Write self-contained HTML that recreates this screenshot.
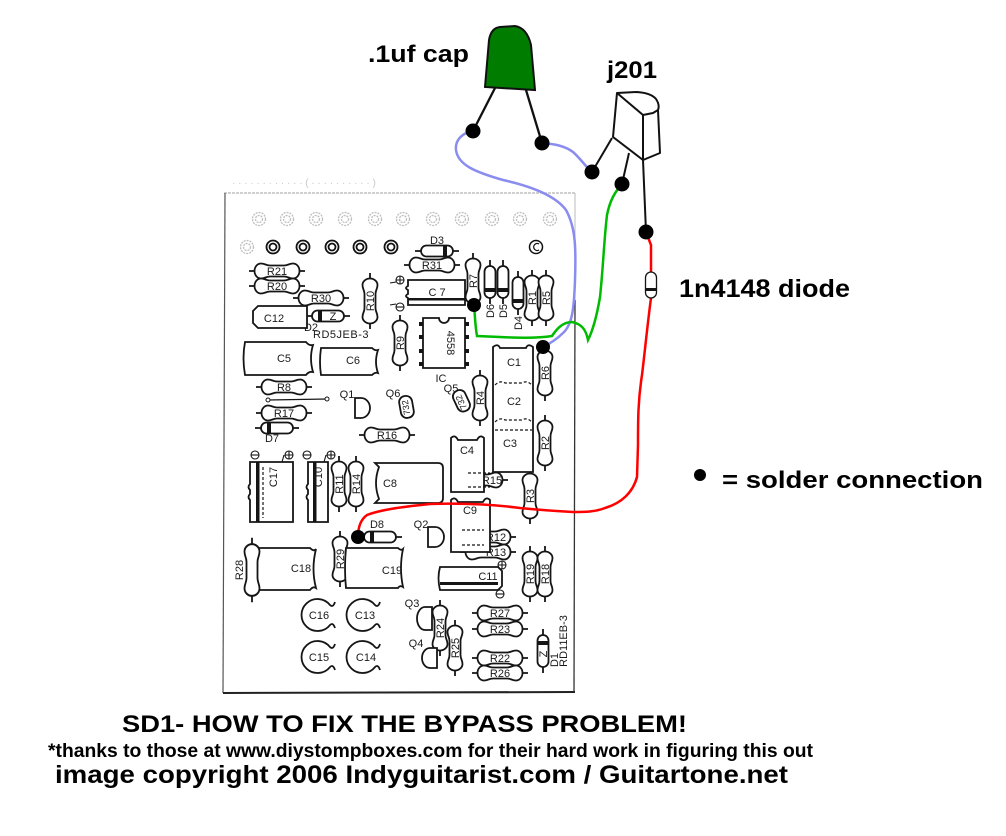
<!DOCTYPE html>
<html><head><meta charset="utf-8"><style>
html,body{margin:0;padding:0;background:#fff;}
svg{display:block;}
.l{font-family:"Liberation Sans",sans-serif;font-size:11px;fill:#1a1a1a;text-anchor:middle;}
.b{font-family:"Liberation Sans",sans-serif;font-weight:bold;fill:#000;}
</style></head><body>
<svg width="1006" height="836" viewBox="0 0 1006 836" xmlns="http://www.w3.org/2000/svg">
<defs>
<g id="r" stroke="#151515" stroke-width="1.8" fill="none">
<path d="M-28,0H-22M22,0H28"/>
<path d="M-16,-7.5C-12,-7.5 -11,-5.5 -7,-5.5H7C11,-5.5 12,-7.5 16,-7.5A6.5,7.5 0 0 1 16,7.5C12,7.5 11,5.5 7,5.5H-7C-11,5.5 -12,7.5 -16,7.5A6.5,7.5 0 0 1 -16,-7.5Z" fill="#fff"/>
</g>
<g id="d" stroke="#151515" stroke-width="1.8" fill="none">
<path d="M-22,0H-16M16,0H22"/>
<rect x="-16" y="-5.5" width="32" height="11" rx="5.5" fill="#fff"/>
<rect x="6" y="-5.5" width="4" height="11" fill="#151515" stroke="none"/>
</g>
<g id="pf" fill="none" stroke="#bdbdbd" stroke-width="1.3" stroke-dasharray="2,1"><circle r="6.5"/><circle r="3.5"/></g>
<g id="pb" fill="none" stroke="#111" stroke-width="1.8"><circle r="6.5"/><circle r="3.5"/></g>
</defs>

<!-- PCB board border -->
<line x1="224" y1="193" x2="575" y2="193" stroke="#b5b5b5" stroke-width="1.2" stroke-dasharray="3,1"/>
<line x1="225" y1="193" x2="223" y2="693" stroke="#555" stroke-width="1.2"/>
<line x1="575" y1="193" x2="575" y2="300" stroke="#bbb" stroke-width="1"/>
<line x1="575" y1="300" x2="574" y2="693" stroke="#333" stroke-width="1.3"/>
<line x1="223" y1="693" x2="575" y2="692" stroke="#222" stroke-width="2"/>
<text x="232" y="186" font-family="Liberation Sans, sans-serif" font-size="10" fill="#c8c8c8">· · · · · ·  · · · · · ·  ( · · · · · · · · · · )</text>

<!-- pads -->
<use href="#pf" x="259" y="219"/><use href="#pf" x="287" y="219"/><use href="#pf" x="316" y="219"/><use href="#pf" x="345" y="219"/><use href="#pf" x="375" y="219"/><use href="#pf" x="403" y="219"/><use href="#pf" x="433" y="219"/><use href="#pf" x="462" y="219"/><use href="#pf" x="492" y="219"/><use href="#pf" x="520" y="219"/><use href="#pf" x="550" y="219"/>
<use href="#pf" x="247" y="247"/><use href="#pb" x="273" y="247"/><use href="#pb" x="303" y="247"/><use href="#pb" x="332" y="247"/><use href="#pb" x="360" y="247"/><use href="#pb" x="391" y="247"/>
<circle cx="536" cy="247" r="6.5" fill="none" stroke="#111" stroke-width="1.5"/><path d="M539,244 A3.5,3.5 0 1 0 539,250" fill="none" stroke="#111" stroke-width="1.3"/>

<!-- horizontal resistors -->
<use href="#r" transform="translate(277,271)"/><text class="l" x="277" y="275">R21</text>
<use href="#r" transform="translate(277,286)"/><text class="l" x="277" y="290">R20</text>
<use href="#r" transform="translate(321,298)"/><text class="l" x="321" y="302">R30</text>
<use href="#r" transform="translate(432,265)"/><text class="l" x="432" y="269">R31</text>
<use href="#r" transform="translate(284,387)"/><text class="l" x="284" y="391">R8</text>
<use href="#r" transform="translate(284,413)"/><text class="l" x="284" y="417">R17</text>
<use href="#r" transform="translate(387,435)"/><text class="l" x="387" y="439">R16</text>
<use href="#r" transform="translate(480,480)"/><text class="l" x="492" y="484">R15</text>
<use href="#r" transform="translate(488,537)"/><text class="l" x="496" y="541">R12</text>
<use href="#r" transform="translate(488,552)"/><text class="l" x="496" y="556">R13</text>
<use href="#r" transform="translate(500,613)"/><text class="l" x="500" y="617">R27</text>
<use href="#r" transform="translate(500,629)"/><text class="l" x="500" y="633">R23</text>
<use href="#r" transform="translate(500,658)"/><text class="l" x="500" y="662">R22</text>
<use href="#r" transform="translate(500,673)"/><text class="l" x="500" y="677">R26</text>

<!-- vertical resistors -->
<use href="#r" transform="translate(370,301) rotate(90)"/><text class="l" transform="translate(374,301) rotate(-90)">R10</text>
<use href="#r" transform="translate(473,281) rotate(90)"/><text class="l" transform="translate(477,281) rotate(-90)">R7</text>
<use href="#r" transform="translate(532,298) rotate(90)"/><text class="l" transform="translate(536,298) rotate(-90)">R1</text>
<use href="#r" transform="translate(546,298) rotate(90)"/><text class="l" transform="translate(550,298) rotate(-90)">R5</text>
<use href="#r" transform="translate(400,343) rotate(90)"/><text class="l" transform="translate(404,343) rotate(-90)">R9</text>
<use href="#r" transform="translate(545,373) rotate(90)"/><text class="l" transform="translate(549,373) rotate(-90)">R6</text>
<use href="#r" transform="translate(480,398) rotate(90)"/><text class="l" transform="translate(484,398) rotate(-90)">R4</text>
<use href="#r" transform="translate(545,443) rotate(90)"/><text class="l" transform="translate(549,443) rotate(-90)">R2</text>
<use href="#r" transform="translate(339,484) rotate(90)"/><text class="l" transform="translate(343,484) rotate(-90)">R11</text>
<use href="#r" transform="translate(356,484) rotate(90)"/><text class="l" transform="translate(360,484) rotate(-90)">R14</text>
<use href="#r" transform="translate(530,496) rotate(90)"/><text class="l" transform="translate(534,496) rotate(-90)">R3</text>
<use href="#r" transform="translate(340,559) rotate(90)"/><text class="l" transform="translate(344,559) rotate(-90)">R29</text>
<use href="#r" transform="translate(530,574) rotate(90)"/><text class="l" transform="translate(534,574) rotate(-90)">R19</text>
<use href="#r" transform="translate(545,574) rotate(90)"/><text class="l" transform="translate(549,574) rotate(-90)">R18</text>
<use href="#r" transform="translate(440,628) rotate(90)"/><text class="l" transform="translate(444,628) rotate(-90)">R24</text>
<use href="#r" transform="translate(455,648) rotate(90)"/><text class="l" transform="translate(459,648) rotate(-90)">R25</text>

<!-- diodes -->
<use href="#d" transform="translate(437,251)"/><text class="l" x="437" y="244">D3</text>
<use href="#d" transform="translate(328,316) rotate(180)"/><text class="l" x="333" y="320">Z</text><text class="l" x="311" y="331">D2</text>
<text class="l" x="341" y="338" style="letter-spacing:0.5px">RD5JEB-3</text>
<use href="#d" transform="translate(277,428) rotate(180)"/><text class="l" x="272" y="442">D7</text>
<use href="#d" transform="translate(380,537) rotate(180)"/><text class="l" x="377" y="528">D8</text>
<use href="#d" transform="translate(490,282) rotate(90)"/><text class="l" transform="translate(494,311) rotate(-90)">D6</text>
<use href="#d" transform="translate(503,282) rotate(90)"/><text class="l" transform="translate(507,311) rotate(-90)">D5</text>
<use href="#d" transform="translate(518,293) rotate(90)"/><text class="l" transform="translate(522,323) rotate(-90)">D4</text>
<use href="#d" transform="translate(543,651) rotate(-90)"/><text class="l" transform="translate(547,654) rotate(-90)">Z</text>
<text class="l" transform="translate(558,660) rotate(-90)">D1</text>
<text class="l" transform="translate(567,641) rotate(-90)">RD11EB-3</text>

<g fill="#fff" stroke="#151515" stroke-width="1.8">
<!-- film caps -->
<path d="M258,306H307V328H258L253,323V311Z"/>
<path d="M245,342H306Q309,346 313,345Q309,358 313,372Q309,371 306,375H245Q242,358 245,342Z"/>
<path d="M321,348H372Q375,351 378,350Q374,362 378,373Q375,372 372,375H321Q319,362 321,348Z"/>
<path d="M375,463H438Q443,463 443,468V498Q443,503 438,503H375L379,499Q373,483 379,467Z"/>
<path d="M493,347Q498,343 500,348H526Q528,343 533,347V472H493Z"/>
<path d="M451,438Q455,434 458,440H477Q480,434 484,438V492H451Z"/>
<path d="M451,500Q455,496 458,502H483Q486,496 490,500V552H451Z"/>
<path d="M255,548H310Q314,552 316,549Q311,569 316,588Q313,586 310,590H255Q250,569 255,548Z"/>
<path d="M346,548H398Q401,551 403,549Q399,568 403,587Q400,585 398,588H346Q344,568 346,548Z"/>
<!-- electrolytics -->
<path d="M250,462H293V522H250V500Q247,497 250,494V490Q247,487 250,484Z"/>
<path d="M308,462H328V522H308V500Q305,497 308,494V490Q305,487 308,484Z"/>
<path d="M440,567H498L502,571V586L498,590H440Q437,578 440,567Z"/>
<path d="M408,280H465V305H408V298Q404,296 408,294V290Q404,288 408,286Z"/>
<!-- IC -->
<path d="M423,318H439A5,5 0 0 0 449,318H465V368H423Z"/>
</g>
<g fill="none" stroke="#151515" stroke-width="1.2" stroke-dasharray="3,2">
<path d="M495,385Q500,380 505,383H522Q527,380 532,385"/>
<path d="M495,422Q500,417 505,420H522Q527,417 532,422"/>
<path d="M495,430H532"/>
<path d="M468,473H490M468,487H490"/>
<path d="M462,530H484M462,545H484"/>
<path d="M263,467V518"/>
</g>
<g fill="#151515">
<rect x="256" y="462" width="3.5" height="60"/>
<rect x="313" y="462" width="3.5" height="60"/>
<rect x="440" y="582" width="58" height="3"/>
<rect x="408" y="298" width="57" height="2.5"/>
<rect x="419" y="322" width="4" height="4"/><rect x="419" y="335" width="4" height="4"/><rect x="419" y="349" width="4" height="4"/><rect x="419" y="362" width="4" height="4"/>
<rect x="465" y="322" width="4" height="4"/><rect x="465" y="335" width="4" height="4"/><rect x="465" y="349" width="4" height="4"/><rect x="465" y="362" width="4" height="4"/>
</g>
<!-- polarity marks -->
<g fill="none" stroke="#151515" stroke-width="1.1">
<circle cx="400" cy="280" r="4"/><path d="M396,280H404M400,276V284"/>
<circle cx="400" cy="307" r="4"/><path d="M396,307H404"/>
<circle cx="255" cy="455" r="4"/><path d="M251,455H259"/>
<circle cx="289" cy="455" r="4"/><path d="M285,455H293M289,451V459"/>
<circle cx="307" cy="455" r="4"/><path d="M303,455H311"/>
<circle cx="331" cy="455" r="4"/><path d="M327,455H335M331,451V459"/>
<circle cx="502" cy="565" r="4"/><path d="M498,565H506M502,561V569"/>
<circle cx="500" cy="594" r="4"/><path d="M496,594H504"/>
<path d="M390,283L396,282M390,305L396,304M284,455L282,462M326,455L324,462"/>
</g>
<!-- round caps -->
<g fill="#fff" stroke="#151515" stroke-width="1.8">
<path d="M330,605A16,16 0 1 0 330,625Q333,622 335,628M330,605Q333,608 335,602"/>
<path d="M375,605A16,16 0 1 0 375,625Q378,622 380,628M375,605Q378,608 380,602"/>
<path d="M330,647A16,16 0 1 0 330,667Q333,664 335,670M330,647Q333,650 335,644"/>
<path d="M375,647A16,16 0 1 0 375,667Q378,664 380,670M375,647Q378,650 380,644"/>
</g>
<!-- transistors -->
<g fill="#fff" stroke="#151515" stroke-width="1.8">
<path d="M355,398H361A9,10 0 0 1 361,418H355Z"/>
<path d="M428,527H435A9,10 0 0 1 435,547H428Z"/>
<path d="M432,607H425A8,11.5 0 0 0 425,630H432Z"/>
<path d="M437,648H430A8,10 0 0 0 430,668H437Z"/>
<rect x="400" y="396" width="13" height="22" rx="6" transform="rotate(-10 406 407)"/>
<rect x="455" y="390" width="13" height="22" rx="6" transform="rotate(-25 461 401)"/>
</g>
<path d="M268,400L327,399" stroke="#151515" stroke-width="1.2"/>
<circle cx="268" cy="400" r="2" fill="#fff" stroke="#151515"/><circle cx="327" cy="399" r="2" fill="#fff" stroke="#151515"/>

<!-- component labels -->
<text class="l" x="274" y="322">C12</text>
<text class="l" x="437" y="296">C 7</text>
<text class="l" transform="translate(447,343) rotate(90)">4558</text>
<text class="l" x="441" y="382">IC</text>
<text class="l" x="284" y="362">C5</text>
<text class="l" x="353" y="364">C6</text>
<text class="l" x="514" y="366">C1</text>
<text class="l" x="514" y="405">C2</text>
<text class="l" x="510" y="447">C3</text>
<text class="l" x="347" y="398">Q1</text>
<text class="l" x="393" y="397">Q6</text>
<text class="l" x="451" y="392">Q5</text>
<text class="l" style="font-size:9px" transform="translate(409,407) rotate(-100)">732</text>
<text class="l" style="font-size:9px" transform="translate(464,401) rotate(-115)">732</text>
<text class="l" transform="translate(277,477) rotate(-90)">C17</text>
<text class="l" transform="translate(322,477) rotate(-90)">C10</text>
<text class="l" x="390" y="487">C8</text>
<text class="l" x="467" y="454">C4</text>
<text class="l" x="470" y="514">C9</text>
<text class="l" x="421" y="528">Q2</text>
<text class="l" x="392" y="574">C19</text>
<text class="l" x="301" y="572">C18</text>
<use href="#r" transform="translate(252,570) rotate(90) scale(1.15,1)"/>
<text class="l" transform="translate(243,570) rotate(-90)">R28</text>
<text class="l" x="488" y="580">C11</text>
<text class="l" x="319" y="619">C16</text>
<text class="l" x="365" y="619">C13</text>
<text class="l" x="319" y="661">C15</text>
<text class="l" x="366" y="661">C14</text>
<text class="l" x="412" y="607">Q3</text>
<text class="l" x="416" y="647">Q4</text>

<!-- blue wires -->
<g fill="none" stroke="#8a8cf0" stroke-width="2.5" stroke-linecap="round">
<path d="M473,131C462,133 455,140 456,150C458,165 475,172 503,180C530,186 555,195 566,210C576,228 576,250 575,280C574,310 572,325 563,333C556,340 549,344 543,347"/>
<path d="M542,143C555,144 565,146 573,152C580,158 585,166 592,172"/>
</g>
<!-- green wire -->
<path d="M622,184C615,192 610,200 607,215C604,240 603,270 600,297C597,315 593,330 588,340C586,330 582,324 572,322C562,322 556,330 552,336C540,338 520,338 500,337L477,336C475,325 475,315 474,305" fill="none" stroke="#00bb00" stroke-width="2.5" stroke-linecap="round"/>
<!-- red wire -->
<path d="M646,232L651,245L651,272M651,298C648,320 645,350 642,375C638,400 638,420 638,445L637,477C633,492 622,503 605,508C595,512 585,512 573,512C555,511 540,510 520,508C490,504 460,503 430,504C400,507 380,510 367,515C360,520 358,528 358,537" fill="none" stroke="#ff0000" stroke-width="2.5" stroke-linecap="round"/>
<!-- 1n4148 diode -->
<rect x="645.5" y="272" width="11" height="26" rx="5.5" fill="#fff" stroke="#151515" stroke-width="1.3"/>
<rect x="645.5" y="288" width="11" height="3" fill="#151515"/>

<!-- .1uf cap -->
<path d="M495,88L473,131M526,90L542,143" stroke="#111" stroke-width="2.3" fill="none"/>
<path d="M485,87L489,40Q491,28 500,27L515,26Q527,28 531,45L535,90Z" fill="#007d00" stroke="#111" stroke-width="2"/>
<!-- j201 -->
<g fill="none" stroke="#111" stroke-width="2" stroke-linejoin="round">
<path d="M617,93L637,92Q651,93 656,99Q660,105 658,110L653,113L643,115Z"/>
<path d="M643,115L643,160L660,153L658,110"/>
<path d="M617,93L613,137L643,160"/>
<path d="M612,138L592,172M629,153L622,184M643,160L646,232"/>
</g>
<!-- solder dots -->
<g fill="#000">
<circle cx="473" cy="131" r="7.5"/><circle cx="542" cy="143" r="7.5"/><circle cx="592" cy="172" r="7.5"/><circle cx="622" cy="184" r="7.5"/><circle cx="646" cy="232" r="7.5"/>
<circle cx="474" cy="305" r="7"/><circle cx="543" cy="347" r="7"/><circle cx="358" cy="537" r="7"/>
<circle cx="700" cy="475" r="6"/>
</g>

<!-- labels -->
<text class="b" x="368" y="62" font-size="24" textLength="101" lengthAdjust="spacingAndGlyphs">.1uf cap</text>
<text class="b" x="607" y="78" font-size="24" textLength="50" lengthAdjust="spacingAndGlyphs">j201</text>
<text class="b" x="679" y="297" font-size="25" textLength="171" lengthAdjust="spacingAndGlyphs">1n4148 diode</text>
<text class="b" x="722" y="488" font-size="24" textLength="261" lengthAdjust="spacingAndGlyphs">= solder connection</text>

<text class="b" x="122" y="732" font-size="24" textLength="565" lengthAdjust="spacingAndGlyphs">SD1- HOW TO FIX THE BYPASS PROBLEM!</text>
<text class="b" x="48" y="757" font-size="19" textLength="765" lengthAdjust="spacingAndGlyphs">*thanks to those at www.diystompboxes.com for their hard work in figuring this out</text>
<text class="b" x="55" y="783" font-size="25" textLength="733" lengthAdjust="spacingAndGlyphs">image copyright 2006 Indyguitarist.com / Guitartone.net</text>
</svg>
</body></html>
